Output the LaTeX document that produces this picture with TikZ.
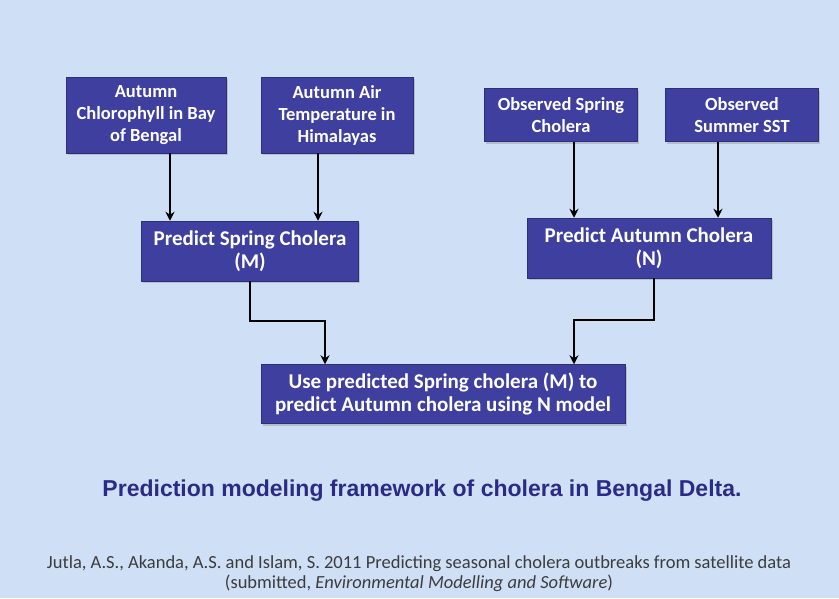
\documentclass[tikz,border=0pt]{standalone}
\usepackage{fontspec}
\setmainfont{Carlito}
\newfontfamily\titlefont{Liberation Sans}
\usetikzlibrary{shadows,arrows.meta}

\definecolor{slidebg}{HTML}{CFDFF5}
\definecolor{boxblue}{HTML}{3F3FA0}
\definecolor{titleblue}{HTML}{2B2B86}
\definecolor{citegrey}{HTML}{3C3C3C}

\tikzset{
    box/.style={draw=boxblue!75!black, line width=0.5pt, fill=boxblue, text=white,
        align=center, inner sep=0pt,
        drop shadow={shadow xshift=1.5pt, shadow yshift=-2pt, opacity=0.35}},
    smallbox/.style={box, font=\bfseries\fontsize{18.5}{22}\selectfont},
    bigbox/.style={box, font=\bfseries\fontsize{21}{23}\selectfont},
    arr/.style={-{Stealth[length=9pt,width=9pt]}, line width=1.8pt}
}

\begin{document}
\begin{tikzpicture}[x=1pt,y=-1pt]
        % Slide background
        \fill[slidebg] (0,0) rectangle (839,598);
        \useasboundingbox (0,0) rectangle (839,598);
        % Input boxes
        \node[smallbox, minimum width=160pt, minimum height=76pt] (chl) at (146,115) {Autumn\\Chlorophyll in Bay\\of Bengal};
        \node[smallbox, minimum width=152pt, minimum height=76pt] (air) at (337,115) {Autumn Air\\Temperature in\\Himalayas};
        \node[smallbox, minimum width=153pt, minimum height=53pt] (obs) at (561,115) {Observed Spring\\Cholera};
        \node[smallbox, minimum width=153pt, minimum height=53pt] (sst) at (742,115) {Observed\\Summer SST};
        % Model boxes
        \node[bigbox, minimum width=217pt, minimum height=60pt] (spring) at (250,251) {Predict Spring Cholera\\(M)};
        \node[bigbox, minimum width=244pt, minimum height=60pt] (autumn) at (649,248) {Predict Autumn Cholera\\(N)};
        \node[bigbox, minimum width=364pt, minimum height=59pt] (use) at (443,394) {Use predicted Spring cholera (M) to\\predict Autumn cholera using N model};
        % Arrows into the model boxes
        \draw[arr] ([xshift=24pt]chl.south) -- ([xshift=24pt]chl.south |- spring.north);
        \draw[arr] ([xshift=-19pt]air.south) -- ([xshift=-19pt]air.south |- spring.north);
        \draw[arr] ([xshift=13pt]obs.south) -- ([xshift=13pt]obs.south |- autumn.north);
        \draw[arr] ([xshift=-24pt]sst.south) -- ([xshift=-24pt]sst.south |- autumn.north);
        % Arrows into the final box
        \draw[arr] (spring.south) -- ++(0,40) -| ([xshift=-118pt]use.north);
        \draw[arr] ([xshift=5pt]autumn.south) -- ++(0,42) -| ([xshift=131pt]use.north);
        % Caption and reference
        \node[font=\titlefont\bfseries\fontsize{23}{27}\selectfont, text=titleblue] (title) at (422,491) {Prediction modeling framework of cholera in Bengal Delta.};
        \node[font=\fontsize{18.5}{20}\selectfont, text=citegrey, align=center] (cite) at (419,574) {Jutla, A.S., Akanda, A.S. and Islam, S. 2011 Predicting seasonal cholera outbreaks from satellite data\\(submitted, \textit{Environmental Modelling and Software})};
    \end{tikzpicture}
\end{document}
